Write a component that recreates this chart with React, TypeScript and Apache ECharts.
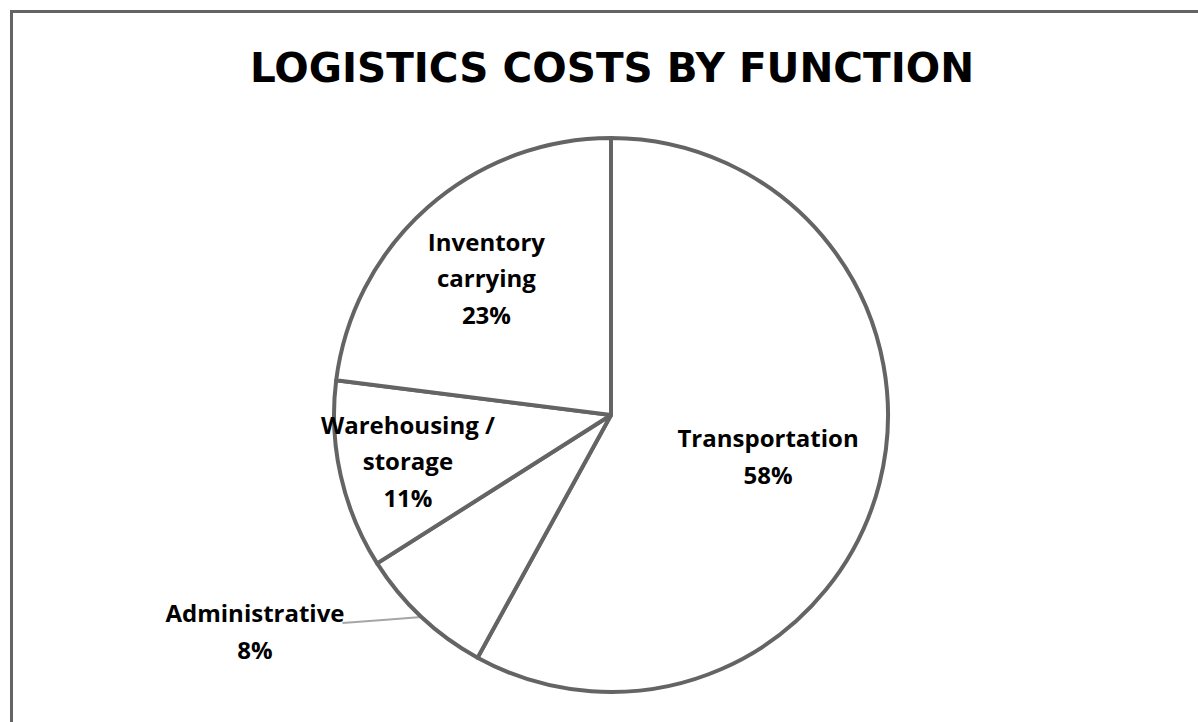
import React, { useEffect, useRef } from "react";
import * as echarts from "echarts";

const TITLE = "LOGISTICS COSTS BY FUNCTION";
const categories = ["Transportation", "Administrative", "Warehousing /\nstorage", "Inventory\ncarrying"];
const values = [58, 8, 11, 23];

const CX = 611;
const CY = 415;
const R = 277;
// label shifts relative to ECharts' default inside position (px)
const labelShift: Record<number, [number, number]> = {
  0: [20, 6],
  2: [-65, 15],
  3: [-31, -31],
};

export default function App() {
  const ref = useRef<HTMLDivElement>(null);
  useEffect(() => {
    if (!ref.current) return;
    const chart = echarts.init(ref.current, null, { renderer: "svg" });
    const total = values.reduce((a, b) => a + b, 0);
    const data = categories.map((name, i) => {
      const d: any = { name, value: values[i] };
      if (i === 1) {
        d.label = { position: "outside" };
        d.labelLine = { show: true, lineStyle: { color: "#a6a6a6", width: 2 } };
      }
      return d;
    });
    chart.setOption({
      animation: false,
      backgroundColor: "#ffffff",
      title: {
        text: TITLE,
        left: 607,
        top: 40,
        textAlign: "center",
        textStyle: {
          fontFamily: "DejaVu Sans",
          fontWeight: "bold",
          fontSize: 40.5,
          lineHeight: 46,
          color: "#000000",
        },
      },
      graphic: [
        {
          type: "rect",
          shape: { x: 11.5, y: 11.5, width: 1400, height: 900 },
          style: { fill: "none", stroke: "#646464", lineWidth: 3 },
          silent: true,
        },
      ],
      series: [
        {
          type: "pie",
          center: [CX, CY],
          radius: [0, R],
          startAngle: 90,
          clockwise: true,
          data,
          itemStyle: { color: "#ffffff", borderColor: "#646464", borderWidth: 4 },
          emphasis: { disabled: true },
          label: {
            show: true,
            position: "inside",
            formatter: (p: any) => `${p.name}\n${Math.round(p.percent)}%`,
            fontFamily: "Open Sans",
            fontWeight: "bold",
            fontSize: 24,
            lineHeight: 36.5,
            color: "#000000",
            align: "center",
          },
          labelLine: { show: false },
          labelLayout: (params: any) => {
            const i = params.dataIndex;
            if (i === 1) {
              let before = 0;
              for (let k = 0; k < i; k++) before += values[k];
              const mid = ((before + values[i] / 2) / total) * 2 * Math.PI;
              const sx = CX + R * Math.sin(mid);
              const sy = CY - R * Math.cos(mid);
              const lx = 255;
              const ly = 631;
              const w = params.labelRect.width;
              return {
                x: lx,
                y: ly,
                align: "center",
                verticalAlign: "middle",
                labelLinePoints: [
                  [sx, sy],
                  [(sx + lx + w / 2) / 2, sy + 3],
                  [lx + w / 2 - 2, ly - 8],
                ],
              };
            }
            const s = labelShift[i] || [0, 0];
            return { dx: s[0], dy: s[1] };
          },
        },
      ],
    });
    return () => chart.dispose();
  }, []);
  return (
    <div
      ref={ref}
      style={{ position: "absolute", left: 0, top: 0, width: 1198, height: 722 }}
    />
  );
}
